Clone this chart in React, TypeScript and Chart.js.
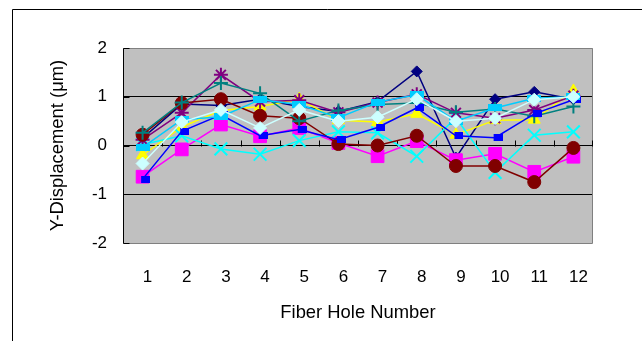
import React, { useEffect, useRef } from 'react';
import { Chart, registerables } from 'chart.js';

Chart.register(...registerables);

// ---- data ----
const CATEGORIES = ['1', '2', '3', '4', '5', '6', '7', '8', '9', '10', '11', '12'];
const Y_TICKS = [-2, -1, 0, 1, 2];
const X_TITLE = 'Fiber Hole Number';
const Y_TITLE = 'Y-Displacement (μm)';

const NAVY = [0.15, 0.85, 0.82, 0.95, 0.8, 0.7, 0.9, 1.52, -0.25, 0.95, 1.1, 0.95];
const MAGENTA = [-0.64, -0.08, 0.43, 0.19, 0.36, 0.05, -0.22, 0.09, -0.3, -0.17, -0.54, -0.23];
const YELLOW = [-0.2, 0.38, 0.72, 0.8, 0.95, 0.52, 0.48, 0.65, 0.22, 0.52, 0.53, 1.12];
const CYAN = [0.02, 0.2, -0.07, -0.18, 0.1, 0.28, 0.26, -0.22, 0.57, -0.55, 0.21, 0.28];
const PURPLE = [0.12, 0.67, 1.45, 0.9, 0.93, 0.68, 0.88, 1.05, 0.67, 0.56, 0.73, 1.02];
const MAROON = [0.22, 0.87, 0.95, 0.61, 0.56, 0.03, 0.0, 0.2, -0.42, -0.42, -0.75, -0.05];
const TEAL = [0.26, 0.88, 1.28, 1.07, 0.5, 0.72, 0.84, 0.87, 0.68, 0.75, 0.6, 0.8];
const BLUE = [-0.69, 0.29, 0.63, 0.2, 0.33, 0.12, 0.37, 0.77, 0.2, 0.16, 0.65, 0.94];
const SKY = [-0.04, 0.53, 0.59, 0.94, 0.84, 0.57, 0.89, 1.04, 0.5, 0.77, 0.97, 1.0];
const LIGHTCYAN = [-0.37, 0.48, 0.73, 0.36, 0.73, 0.5, 0.58, 0.95, 0.5, 0.56, 0.94, 1.0];

const FONT = "'Liberation Sans', Arial, sans-serif";

function rectMarker(w: number, h: number, color: string, shiftX: number): HTMLCanvasElement {
  const c = document.createElement('canvas');
  c.width = w + 2 * Math.abs(shiftX);
  c.height = h;
  const g = c.getContext('2d')!;
  g.fillStyle = color;
  g.fillRect(shiftX > 0 ? 2 * shiftX : 0, 0, w, h);
  return c;
}

const framePlugin = {
  id: 'excelFrame',
  beforeDraw(chart: any) {
    const { ctx, chartArea: a } = chart;
    ctx.save();
    ctx.fillStyle = '#C0C0C0';
    ctx.fillRect(a.left, a.top, a.right - a.left, a.bottom - a.top);
    ctx.strokeStyle = '#000';
    ctx.lineWidth = 1;
    ctx.beginPath();
    ctx.moveTo(12.5, chart.height);
    ctx.lineTo(12.5, 9.5);
    ctx.lineTo(chart.width, 9.5);
    ctx.stroke();
    ctx.restore();
  },
  beforeDatasetsDraw(chart: any) {
    const { ctx, chartArea: a, scales } = chart;
    const xs = scales.x;
    const ys = scales.y;
    const top = Math.round(ys.getPixelForValue(Y_TICKS[Y_TICKS.length - 1])) + 0.5;
    const bottom = Math.round(ys.getPixelForValue(Y_TICKS[0])) + 0.5;
    const left = Math.round(a.left) + 0.5;
    const right = Math.round(a.right) - 0.5;
    ctx.save();
    ctx.lineWidth = 1;
    // gray plot border
    ctx.strokeStyle = '#808080';
    ctx.beginPath();
    ctx.moveTo(left, top);
    ctx.lineTo(right, top);
    ctx.lineTo(right, bottom);
    ctx.lineTo(left, bottom);
    ctx.stroke();
    // black value axis + inner ticks
    ctx.strokeStyle = '#000';
    ctx.beginPath();
    ctx.moveTo(left, top);
    ctx.lineTo(left, bottom);
    for (const v of Y_TICKS) {
      const py = Math.round(ys.getPixelForValue(v)) + 0.5;
      ctx.moveTo(left, py);
      ctx.lineTo(left + 6, py);
    }
    // category ticks on the zero line
    const y0 = Math.round(ys.getPixelForValue(0)) + 0.5;
    for (let i = 0; i <= CATEGORIES.length; i++) {
      const px = Math.round(xs.getPixelForValue(i - 0.5)) + (i === CATEGORIES.length ? -0.5 : 0.5);
      ctx.moveTo(px, y0);
      ctx.lineTo(px, y0 - 6);
    }
    ctx.stroke();
    ctx.restore();
  },
};

export default function App() {
  const ref = useRef<HTMLCanvasElement | null>(null);

  useEffect(() => {
    if (!ref.current) return;
    const series = [
      { label: 'Series1', data: NAVY, color: '#000080', style: 'rectRot', radius: 5.5, bw: 1 },
      { label: 'Series2', data: MAGENTA, color: '#FF00FF', style: 'rect', radius: 9, bw: 1 },
      { label: 'Series3', data: YELLOW, color: '#FFFF00', style: 'triangle', radius: 7, bw: 1 },
      { label: 'Series4', data: CYAN, color: '#00FFFF', style: 'crossRot', radius: 9, bw: 2 },
      { label: 'Series5', data: PURPLE, color: '#800080', style: 'star', radius: 7, bw: 2 },
      { label: 'Series6', data: MAROON, color: '#800000', style: 'circle', radius: 6.5, bw: 1 },
      { label: 'Series7', data: TEAL, color: '#008080', style: 'cross', radius: 7, bw: 2 },
      { label: 'Series8', data: BLUE, color: '#0000FF', style: rectMarker(9, 7, '#0000FF', 3), radius: 5, bw: 1 },
      { label: 'Series9', data: SKY, color: '#00CCFF', style: rectMarker(14, 7, '#00CCFF', 0), radius: 7, bw: 1 },
      { label: 'Series10', data: LIGHTCYAN, color: '#CCFFFF', style: 'rectRot', radius: 6.5, bw: 1 },
    ];

    const chart = new Chart(ref.current, {
      type: 'line',
      data: {
        labels: CATEGORIES,
        datasets: series.map((s, i) => ({
          label: s.label,
          data: s.data,
          borderColor: s.color,
          backgroundColor: s.color,
          borderWidth: 1.5,
          pointStyle: s.style as any,
          pointRadius: s.radius,
          pointBorderWidth: s.bw,
          pointBorderColor: s.color,
          pointBackgroundColor: s.color,
          tension: 0,
          order: series.length - i,
        })),
      },
      options: {
        responsive: false,
        animation: false,
        devicePixelRatio: 1,
        layout: { padding: { top: 48, right: 49, left: 0, bottom: 0 } },
        plugins: { legend: { display: false }, tooltip: { enabled: false } },
        font: { family: FONT },
        scales: {
          x: {
            type: 'category',
            offset: true,
            grid: { display: false, drawTicks: false },
            border: { display: false },
            ticks: {
              padding: 24,
              labelOffset: 5,
              color: '#000',
              font: { family: FONT, size: 17 },
              maxRotation: 0,
              autoSkip: false,
            },
            title: {
              display: true,
              text: X_TITLE,
              color: '#000',
              font: { family: FONT, size: 18.4 },
              padding: { top: 0, bottom: 17 },
            },
            afterFit: (s: any) => {
              s.height = 98;
            },
          },
          y: {
            min: Y_TICKS[0],
            max: Y_TICKS[Y_TICKS.length - 1],
            afterBuildTicks: (s: any) => {
              s.ticks = Y_TICKS.map((v) => ({ value: v }));
            },
            grid: {
              drawTicks: false,
              lineWidth: 1,
              color: (c: any) =>
                c.tick && (c.tick.value === Y_TICKS[0] || c.tick.value === Y_TICKS[Y_TICKS.length - 1])
                  ? 'rgba(0,0,0,0)'
                  : '#000',
            },
            border: { display: false },
            ticks: {
              padding: 16,
              color: '#000',
              font: { family: FONT, size: 17 },
              callback: (v: any) => String(v),
            },
            title: {
              display: true,
              text: Y_TITLE,
              color: '#000',
              font: { family: FONT, size: 18.4 },
              padding: { top: 47, bottom: 0 },
            },
            afterFit: (s: any) => {
              s.width = 123;
            },
          },
        },
      },
      plugins: [framePlugin],
    });
    return () => chart.destroy();
  }, []);

  return (
    <canvas
      ref={ref}
      width={642}
      height={341}
      style={{ position: 'absolute', left: 0, top: 0, display: 'block' }}
    />
  );
}
